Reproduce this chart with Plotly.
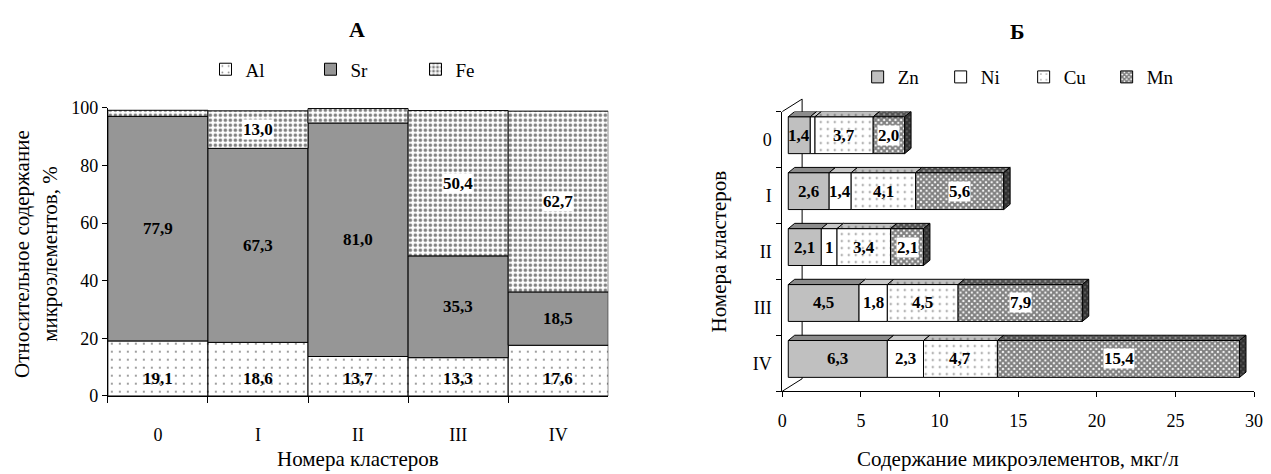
import plotly.graph_objects as go

FONT = "Liberation Serif"
W, H = 1271, 474

clusters = ["0", "I", "II", "III", "IV"]

# Panel А: relative content of trace elements, %
al_share = [19.1, 18.6, 13.7, 13.3, 17.6]
sr_share = [77.9, 67.3, 81.0, 35.3, 18.5]
fe_share = [2.1, 13.0, 5.0, 50.4, 62.7]

# Panel Б: concentration of trace elements, mkg/l
zn_conc = [1.4, 2.6, 2.1, 4.5, 6.3]
ni_conc = [0.3, 1.4, 1, 1.8, 2.3]
cu_conc = [3.7, 4.1, 3.4, 4.5, 4.7]
mn_conc = [2.0, 5.6, 2.1, 7.9, 15.4]

share_ticks = [0, 20, 40, 60, 80, 100]
conc_ticks = [0, 5, 10, 15, 20, 25, 30]
CONC_MAX = 30

# ---- page geometry (pixels) ----
A_BOX = dict(left=104, right=610, top=102, bottom=403)
B_BOX = dict(left=786, right=1263, top=106, bottom=398)


def xf(px):
    return px / W


def yf(py):
    return 1 - py / H


def fmt(v):
    return str(v) if isinstance(v, int) else f"{v:.1f}".replace(".", ",")


OUTLINE = dict(color="black", width=1)
LABEL_FONT = dict(family=FONT, size=17, color="black")

fig = go.Figure()

# ---------------- Panel А: 100 % stacked columns ----------------
series_a = [
    ("Al", al_share, dict(color="white", pattern=dict(shape=".", fgcolor="black", bgcolor="white",
                                                      size=8, solidity=0.05))),
    ("Sr", sr_share, dict(color="#969696")),
    ("Fe", fe_share, dict(color="white", pattern=dict(shape=".", fgcolor="black", bgcolor="white",
                                                      size=5, solidity=0.4))),
]

annotations = []
base = [0.0] * len(clusters)
AL_LABEL_Y = 6
MIN_SHARE_LABEL = 10
for name, vals, mk in series_a:
    fig.add_bar(x=clusters, y=vals, base=base, width=1, name=name,
                marker=dict(**mk, line=OUTLINE), xaxis="x", yaxis="y",
                legend="legend", hoverinfo="skip")
    for c, b, v in zip(clusters, base, vals):
        if v < MIN_SHARE_LABEL:
            continue
        y = AL_LABEL_Y if name == "Al" else b + v / 2
        annotations.append(dict(
            x=c, y=y, xref="x", yref="y", text=f"<b>{fmt(v)}</b>", showarrow=False,
            font=LABEL_FONT, bgcolor="white" if name == "Fe" else None, borderpad=0))
    base = [b + v for b, v in zip(base, vals)]

# ---------------- Panel Б: pseudo-3D stacked bars ----------------
KX = (B_BOX["right"] - B_BOX["left"]) / CONC_MAX          # px per unit
KY = (B_BOX["bottom"] - B_BOX["top"]) / len(clusters)      # px per category
fdx, fdy = 6 / KX, 4.5 / KY        # shift of the bars' front face
ddx, ddy = 6.5 / KX, 5.5 / KY      # bar depth
BW = 38.5 / KY                     # bar thickness
ypos = [i - fdy for i in range(len(clusters))]

dots_light = dict(shape=".", fgcolor="black", size=7, solidity=0.06)
checker = dict(shape="x", fgcolor="black", size=4, solidity=0.75)

series_b = [
    ("Zn", zn_conc, dict(color="#C0C0C0"), dict(fillcolor="#8C8C8C")),
    ("Ni", ni_conc, dict(color="white"), dict(fillcolor="#C8C8C8")),
    ("Cu", cu_conc, dict(color="white", pattern=dict(**dots_light, bgcolor="white")),
     dict(fillcolor="#C0C0C0", fillpattern=dict(**dots_light, bgcolor="#C0C0C0"))),
    ("Mn", mn_conc, dict(color="white", pattern=dict(**checker, bgcolor="white")),
     dict(fillcolor="#A0A0A0", fillpattern=dict(**checker, bgcolor="#A0A0A0"))),
]

MIN_CONC_LABEL = 0.5
left = [fdx] * len(clusters)
for name, vals, front, top in series_b:
    fig.add_bar(x=vals, y=ypos, base=left, width=BW, orientation="h", name=name,
                marker=dict(**front, line=OUTLINE), xaxis="x2", yaxis="y2",
                legend="legend2", hoverinfo="skip")
    # top face of each segment
    xs, ys = [], []
    for a, v, yc in zip(left, vals, ypos):
        yt = yc - BW / 2
        xs += [a, a + v, a + v + ddx, a + ddx, a, None]
        ys += [yt, yt, yt - ddy, yt - ddy, yt, None]
    fig.add_scatter(x=xs, y=ys, mode="lines", fill="toself", line=dict(color="black", width=1),
                    xaxis="x2", yaxis="y2", showlegend=False, hoverinfo="skip", **top)
    for a, v, yc in zip(left, vals, ypos):
        if v < MIN_CONC_LABEL:
            continue
        annotations.append(dict(
            x=a + v / 2, y=yc, xref="x2", yref="y2", text=f"<b>{fmt(v)}</b>", showarrow=False,
            font=LABEL_FONT, bgcolor="white" if name == "Mn" else None, borderpad=0))
    left = [a + v for a, v in zip(left, vals)]

# right-hand end face of every bar
xs, ys = [], []
for e, yc in zip(left, ypos):
    yt, yb = yc - BW / 2, yc + BW / 2
    xs += [e, e + ddx, e + ddx, e, e, None]
    ys += [yt, yt - ddy, yb - ddy, yb, yt, None]
fig.add_scatter(x=xs, y=ys, mode="lines", fill="toself", line=dict(color="black", width=1),
                fillcolor="#606060", fillpattern=dict(**checker, bgcolor="#606060"),
                xaxis="x2", yaxis="y2", showlegend=False, hoverinfo="skip")

# side wall of the 3-D box
WALL_DX, WALL_DY = 20, 13
bl, bt, bb = B_BOX["left"], B_BOX["top"], B_BOX["bottom"]
wall = [
    (bl, bt, bl + WALL_DX, bt - WALL_DY),
    (bl, bb, bl + WALL_DX, bb - WALL_DY),
    (bl + WALL_DX, bt - WALL_DY, bl + WALL_DX, bb - WALL_DY),
]
shapes = [dict(type="line", xref="paper", yref="paper", x0=xf(x0), y0=yf(y0), x1=xf(x1), y1=yf(y1),
               line=dict(color="black", width=1), layer="below") for x0, y0, x1, y1 in wall]

# ---------------- titles ----------------
TITLE_FONT = dict(family=FONT, size=21, color="black")
HEAD_FONT = dict(family=FONT, size=22, color="black")
texts = [
    ("<b>А</b>", 356, 20, 0, HEAD_FONT),
    ("<b>Б</b>", 1024, 22, 0, HEAD_FONT),
    ("Номера кластеров", 357, 469, 0, TITLE_FONT),
    ("Содержание микроэлементов, мкг/л", 1024, 469, 0, TITLE_FONT),
    ("Относительное содержание<br>микроэлементов, %", 31, 255, -90, TITLE_FONT),
    ("Номера кластеров", 722, 252, -90, TITLE_FONT),
]
for t, x, y, ang, f in texts:
    annotations.append(dict(text=t, x=xf(x), y=yf(y), xref="paper", yref="paper",
                            showarrow=False, textangle=ang, font=f,
                            xanchor="center", yanchor="middle"))

TICK_FONT = dict(family=FONT, size=18, color="black")
axis_common = dict(showline=True, linecolor="black", linewidth=1, showgrid=False,
                   zeroline=False, ticks="outside", tickcolor="black", tickfont=TICK_FONT)

fig.update_layout(
    width=W, height=H, margin=dict(l=0, r=0, t=0, b=0),
    paper_bgcolor="white", plot_bgcolor="white",
    barmode="overlay",
    font=dict(family=FONT, color="black"),
    xaxis=dict(**axis_common, domain=[xf(A_BOX["left"]), xf(A_BOX["right"])],
               type="category", categoryorder="array", categoryarray=clusters,
               tickson="boundaries", ticklen=6, ticklabelstandoff=22, anchor="y"),
    yaxis=dict(**axis_common, domain=[yf(A_BOX["bottom"]), yf(A_BOX["top"])],
               range=[0, 100], tickvals=share_ticks, ticklen=5, anchor="x"),
    xaxis2=dict(**axis_common, domain=[xf(B_BOX["left"]), xf(B_BOX["right"])],
                range=[0, CONC_MAX], tickvals=conc_ticks, ticklen=5, ticklabelstandoff=8,
                ticklabeloverflow="allow", anchor="y2"),
    yaxis2=dict(showline=True, linecolor="black", linewidth=1, showgrid=False, zeroline=False,
                domain=[yf(B_BOX["bottom"]), yf(B_BOX["top"])],
                range=[len(clusters) - 0.5, -0.5],
                tickvals=list(range(len(clusters))), ticktext=clusters, ticks="",
                tickfont=TICK_FONT, ticklabelstandoff=6,
                minor=dict(tickvals=[i - 0.5 for i in range(len(clusters) + 1)],
                           ticks="outside", ticklen=5, tickcolor="black"),
                anchor="x2"),
    legend=dict(orientation="h", x=xf(362), xanchor="center", y=yf(62), yanchor="middle",
                font=dict(family=FONT, size=19, color="black"), entrywidth=60,
                bgcolor="rgba(0,0,0,0)", traceorder="normal"),
    legend2=dict(orientation="h", x=xf(1030), xanchor="center", y=yf(70), yanchor="middle",
                 font=dict(family=FONT, size=19, color="black"), entrywidth=38,
                 bgcolor="rgba(0,0,0,0)", traceorder="normal"),
    annotations=annotations,
    shapes=shapes,
)

fig.write_html("out.html")
